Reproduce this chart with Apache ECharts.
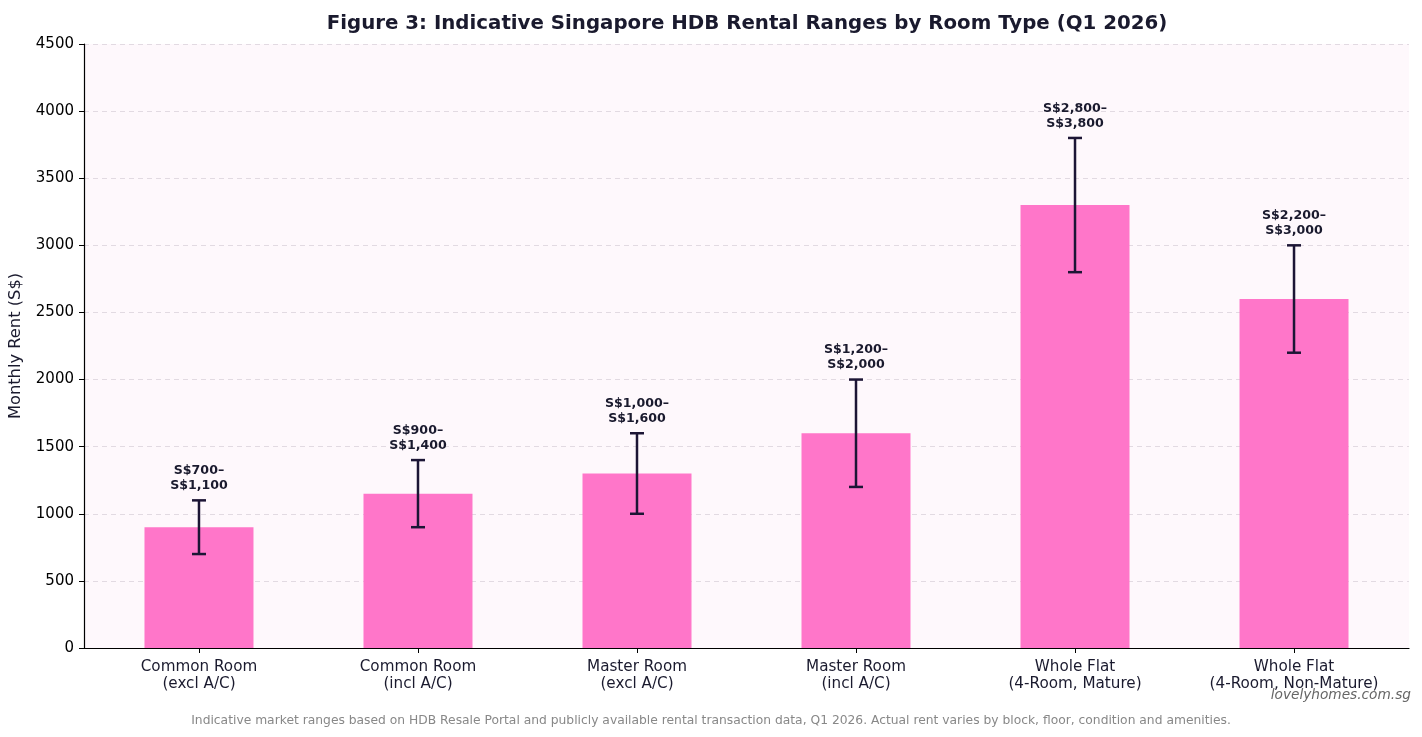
<!DOCTYPE html>
<html>
<head>
<meta charset="utf-8">
<script src="https://cdn.jsdelivr.net/npm/echarts@6/dist/echarts.min.js"></script>
<style>
  html, body { margin: 0; padding: 0; background: #ffffff; }
  #chart { width: 1422px; height: 737px; }
</style>
</head>
<body>
<div id="chart"></div>
<script>
var categories = [
  'Common Room\n(excl A/C)',
  'Common Room\n(incl A/C)',
  'Master Room\n(excl A/C)',
  'Master Room\n(incl A/C)',
  'Whole Flat\n(4-Room, Mature)',
  'Whole Flat\n(4-Room, Non-Mature)'
];
var lowRent = [700, 900, 1000, 1200, 2800, 2200];
var highRent = [1100, 1400, 1600, 2000, 3800, 3000];
var midRent = [900, 1150, 1300, 1600, 3300, 2600];
var yTicks = { min: 0, max: 4500, interval: 500 };
var xRange = { min: -0.525, max: 5.525 };

var ink = '#1a1a2e';
var font = 'DejaVu Sans';

function money(v) {
  return 'S$' + v.toLocaleString('en-US');
}

var positions = categories.map(function(c, i) { return i; });
var barData = categories.map(function(c, i) { return [i, midRent[i]]; });
var errData = categories.map(function(c, i) {
  return [i, lowRent[i], highRent[i]];
});

var chart = echarts.init(document.getElementById('chart'), null, { renderer: 'canvas' });
chart.setOption({
  animation: false,
  backgroundColor: '#ffffff',
  title: [{
    text: 'Figure 3: Indicative Singapore HDB Rental Ranges by Room Type (Q1 2026)',
    left: 742, top: 9, textAlign: 'center',
    textStyle: { fontFamily: font, fontWeight: 'bold', fontSize: 19.8, color: ink }
  }, {
    text: 'Indicative market ranges based on HDB Resale Portal and publicly available rental transaction data, Q1 2026. Actual rent varies by block, floor, condition and amenities.',
    left: 706, top: 710, textAlign: 'center',
    textStyle: { fontFamily: font, fontWeight: 'normal', fontSize: 12.3, color: '#888888' }
  }, {
    text: 'lovelyhomes.com.sg',
    right: 6, top: 683,
    textStyle: { fontFamily: font, fontStyle: 'italic', fontWeight: 'normal', fontSize: 13.7, color: '#666666' }
  }],
  grid: {
    left: 84, top: 44, width: 1325, height: 604,
    show: true, backgroundColor: '#fef8fc', borderWidth: 0
  },
  xAxis: {
    type: 'value',
    min: xRange.min, max: xRange.max,
    splitLine: { show: false },
    axisLine: { show: true, onZero: false, lineStyle: { color: '#000000', width: 1.2 } },
    axisTick: { show: true, customValues: positions, length: 5, lineStyle: { color: '#000000' } },
    axisLabel: {
      customValues: positions,
      fontFamily: font, fontSize: 15.2, color: ink, lineHeight: 17, margin: 11,
      formatter: function(v) { return categories[Math.round(v)]; }
    }
  },
  yAxis: {
    type: 'value',
    min: yTicks.min, max: yTicks.max, interval: yTicks.interval,
    name: 'Monthly Rent (S$)',
    nameLocation: 'middle', nameGap: 60,
    nameTextStyle: { fontFamily: font, fontSize: 16.3, color: ink },
    axisLine: { show: true, onZero: false, lineStyle: { color: '#000000', width: 1.2 } },
    axisTick: { show: true, length: 5, lineStyle: { color: '#000000' } },
    axisLabel: {
      fontFamily: font, fontSize: 15, color: '#000000', margin: 10,
      formatter: function(v) { return String(v); }
    },
    splitLine: { lineStyle: { color: '#e2dae2', type: [5, 4], width: 1 } }
  },
  series: [{
    type: 'bar',
    data: barData,
    barWidth: 109,
    itemStyle: { color: '#ff76c9' }
  }, {
    type: 'custom',
    data: errData,
    z: 5,
    renderItem: function(params, api) {
      var x = api.value(0);
      var lo = api.coord([x, api.value(1)]);
      var hi = api.coord([x, api.value(2)]);
      var cap = 7;
      var st = { stroke: '#1c1535', lineWidth: 2.5 };
      var i = params.dataIndex;
      return {
        type: 'group',
        children: [
          { type: 'line', shape: { x1: lo[0], y1: lo[1], x2: hi[0], y2: hi[1] }, style: st },
          { type: 'line', shape: { x1: lo[0] - cap, y1: lo[1], x2: lo[0] + cap, y2: lo[1] }, style: st },
          { type: 'line', shape: { x1: hi[0] - cap, y1: hi[1], x2: hi[0] + cap, y2: hi[1] }, style: st },
          {
            type: 'text',
            x: hi[0], y: hi[1] - 7,
            style: {
              text: money(lowRent[i]) + '\u2013\n' + money(highRent[i]),
              fontFamily: font, fontWeight: 'bold', fontSize: 12.6, fill: ink,
              align: 'center', verticalAlign: 'bottom', lineHeight: 15
            }
          }
        ]
      };
    }
  }]
});
</script>
</body>
</html>
